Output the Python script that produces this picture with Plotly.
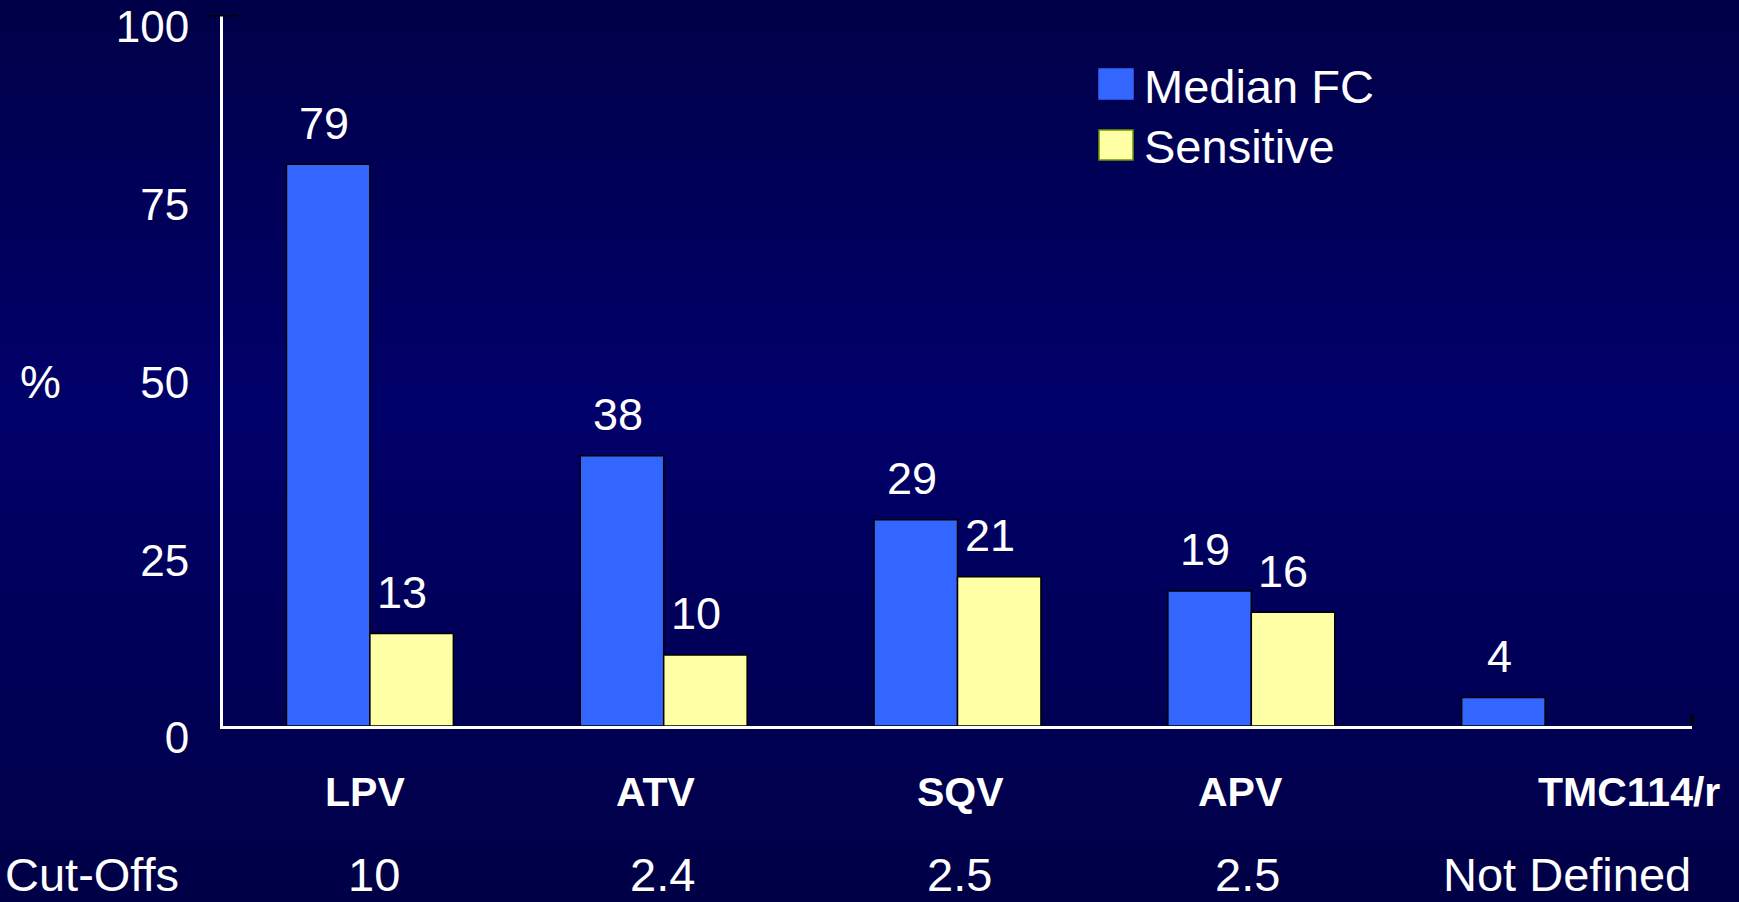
import plotly.graph_objects as go

# Data
drugs = ["LPV", "ATV", "SQV", "APV", "TMC114/r"]
cutoffs = ["10", "2.4", "2.5", "2.5", "Not Defined"]
series_names = ["Median FC", "Sensitive"]
median_fc = [79, 38, 29, 19, 4]
sensitive = [13, 10, 21, 16, None]
y_ticks = [0, 25, 50, 75, 100]

# Colours / fonts
BLUE = "#3366FF"
YELLOW = "#FFFFA6"
FONT = "Liberation Sans, Arial, sans-serif"
W, H = 1739, 902
L, R, T, B = 223, 47, 15, 176
PW, PH = W - L - R, H - T - B


def px_x(x):
    return (x - L) / PW


def px_y(y):
    return (H - B - y) / PH


fig = go.Figure()
fig.add_trace(go.Bar(
    x=drugs, y=median_fc, name=series_names[0],
    marker=dict(color=BLUE, line=dict(color="black", width=1.5)),
))
fig.add_trace(go.Bar(
    x=drugs, y=sensitive, name=series_names[1],
    marker=dict(color=YELLOW, line=dict(color="black", width=1.5)),
))

annotations = []
# value labels above the bars
for values, dx in ((median_fc, -46), (sensitive, 32)):
    for d, v in zip(drugs, values):
        if v is None:
            continue
        annotations.append(dict(
            x=d, y=v, xref="x", yref="y", text=str(v), showarrow=False,
            xshift=dx, yshift=41, yanchor="middle",
            font=dict(family=FONT, size=45, color="white"),
        ))

# category names (bold) and cut-off row
cat_shift = [-5, -8, 3, -11, 84]
for d, s in zip(drugs, cat_shift):
    annotations.append(dict(
        x=d, y=0, xref="x", yref="paper", text="<b>%s</b>" % d, showarrow=False,
        xshift=s, yshift=-66, yanchor="middle",
        font=dict(family=FONT, size=41, color="white"),
    ))
cut_shift = [4, -1, 2, -4, 22]
for d, c, s in zip(drugs, cutoffs, cut_shift):
    annotations.append(dict(
        x=d, y=0, xref="x", yref="paper", text=c, showarrow=False,
        xshift=s, yshift=-B, yanchor="bottom", borderpad=0,
        font=dict(family=FONT, size=47, color="white"),
    ))
annotations.append(dict(
    x=px_x(4), y=0, xref="paper", yref="paper", text="Cut-Offs", showarrow=False,
    xanchor="left", yshift=-B, yanchor="bottom", borderpad=0,
    font=dict(family=FONT, size=47, color="white"),
))
# axis title
annotations.append(dict(
    x=px_x(40), y=px_y(382), xref="paper", yref="paper", text="%", showarrow=False,
    xanchor="center", yanchor="middle",
    font=dict(family=FONT, size=46, color="white"),
))

# legend drawn as swatches + labels
shapes = []
for i, (name, col, edge) in enumerate(zip(series_names, [BLUE, YELLOW], [BLUE, "#6B9A00"])):
    cy = 84 + 61 * i
    shapes.append(dict(
        type="rect", xref="paper", yref="paper",
        x0=px_x(1099), x1=px_x(1133), y0=px_y(cy + 15), y1=px_y(cy - 15),
        fillcolor=col, line=dict(color=edge, width=1.5), layer="above",
    ))
    annotations.append(dict(
        x=px_x(1142), y=px_y(cy + 2), xref="paper", yref="paper", text=name,
        showarrow=False, xanchor="left", yanchor="middle",
        font=dict(family=FONT, size=47, color="white"),
    ))

# small black end ticks on the axes
shapes.append(dict(type="line", xref="paper", yref="y", xsizemode="pixel", xanchor=0,
                   x0=-15, x1=14, y0=100, y1=100, line=dict(color="black", width=3)))
shapes.append(dict(type="line", xref="paper", yref="y", ysizemode="pixel", yanchor=0,
                   x0=1, x1=1, y0=-12, y1=12, line=dict(color="black", width=3)))

# vertical background gradient as thin bands
top_c, mid_c, bot_c = 0x48, 0x6A, 0x46
n = 90
for i in range(n):
    f = (i + 0.5) / n  # 0 at top, 1 at bottom
    peak = 0.45
    if f < peak:
        b = top_c + (mid_c - top_c) * (f / peak)
    else:
        b = mid_c + (bot_c - mid_c) * ((f - peak) / (1 - peak))
    color = "rgb(0,0,%d)" % round(b)
    shapes.append(dict(
        type="rect", xref="paper", yref="paper", layer="below",
        x0=px_x(0), x1=px_x(W), y0=px_y(H * i / n), y1=px_y(H * (i + 1) / n),
        fillcolor=color, line=dict(width=0),
    ))

fig.update_layout(
    width=W, height=H,
    margin=dict(l=L, r=R, t=T, b=B),
    paper_bgcolor="#000058",
    plot_bgcolor="rgba(0,0,0,0)",
    barmode="group", bargap=0.432, bargroupgap=0,
    showlegend=False,
    font=dict(family=FONT, color="white"),
    annotations=annotations,
    shapes=shapes,
    xaxis=dict(
        range=[-0.5, 4.5], showticklabels=False, ticks="", showgrid=False,
        showline=True, linecolor="white", linewidth=3, zeroline=False, fixedrange=True,
        automargin=False,
    ),
    yaxis=dict(
        range=[0, 100], tickvals=y_ticks, ticktext=[str(t) for t in y_ticks],
        ticks="", showgrid=False, zeroline=False,
        showline=True, linecolor="white", linewidth=3,
        tickfont=dict(family=FONT, size=44, color="white"),
        ticklabelstandoff=22, ticklabelshift=12, fixedrange=True,
        automargin=False,
    ),
)

fig.write_html("out.html")
